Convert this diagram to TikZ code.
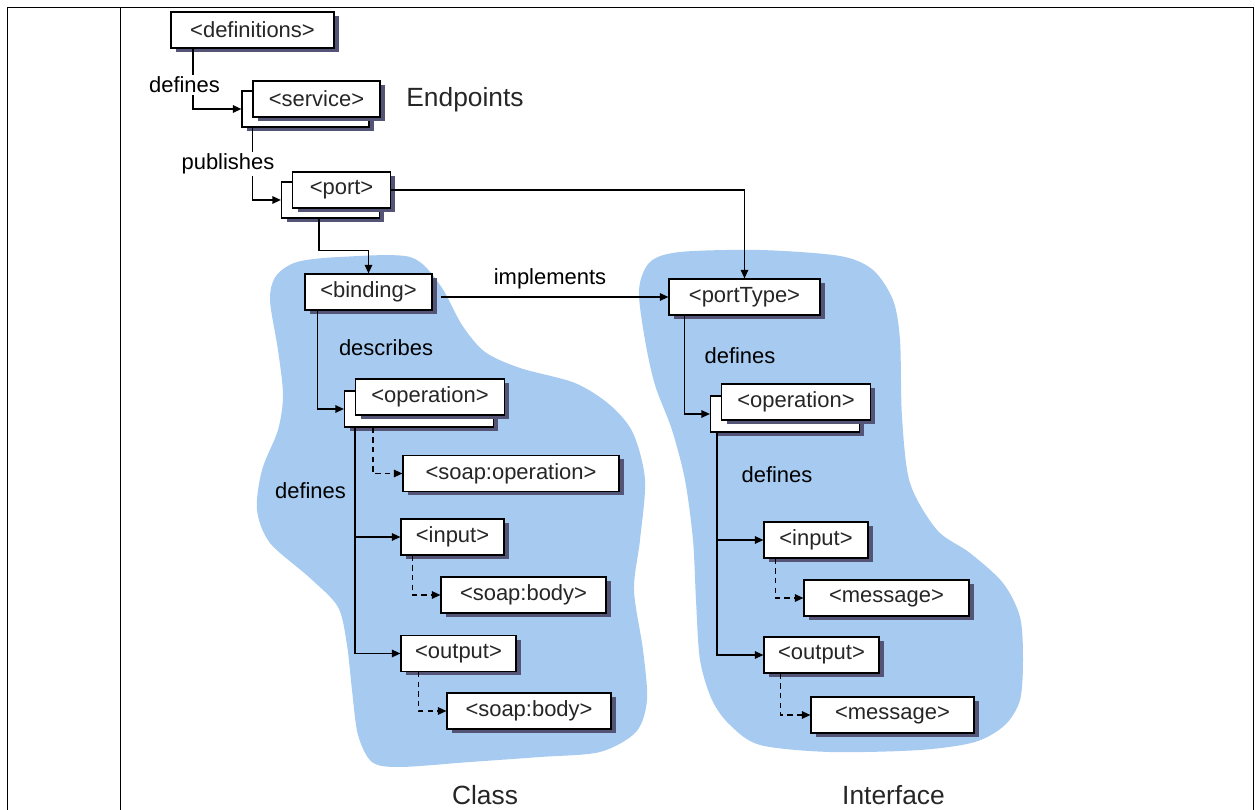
\documentclass[tikz,border=0pt]{standalone}
\usepackage{fontspec}
\setmainfont{Liberation Sans}
\usetikzlibrary{arrows.meta,shadows,calc}
\definecolor{blobblue}{HTML}{A6CAF0}
\definecolor{shadowc}{RGB}{84,84,118}

\begin{document}
\begin{tikzpicture}[x=0.02cm, y=-0.02cm,
    box/.style={draw, fill=white, line width=0.7pt, inner sep=0pt,
        minimum height=0.72cm, text=black!85,
        font=\fontsize{12.5}{14}\selectfont,
        drop shadow={shadow xshift=0.1cm, shadow yshift=-0.08cm, fill=shadowc, opacity=1}},
    lbl/.style={font=\fontsize{12.5}{14}\selectfont, inner sep=1pt},
    title/.style={font=\fontsize{15}{18}\selectfont, text=black!85},
    arr/.style={line width=0.7pt, -{Triangle[length=0.17cm, width=0.15cm]}},
    dasharr/.style={arr, dash pattern=on 3pt off 2.5pt}]
    \useasboundingbox (0,0) rectangle (1255,810);
    % The frame.
        \draw[line width=1.1pt] (7.5,810) -- (7.5,7.5) -- (1253.5,7.5) -- (1253.5,810);
        \draw[line width=1.1pt] (120.5,7.5) -- (120.5,810);
    % The two blue areas.
        \fill[blobblue] plot[smooth cycle] coordinates {(270,300) (276,276) (297,262) (340,257)
            (410,257) (440,285) (462,325) (485,352) (520,368) (575,383) (610,405)
            (633,433) (645,480) (640,540) (634,590) (643,650) (647,700) (636,732)
            (600,752) (540,757) (470,762) (400,767) (372,762) (358,735) (352,690)
            (347,645) (338,607) (310,578) (270,543) (257,510) (262,470) (278,430)
            (283,395) (278,350)};
        \fill[blobblue] plot[smooth cycle] coordinates {(639,290) (650,262) (680,252) (760,250)
            (840,256) (873,270) (893,300) (900,340) (902,417) (910,483) (937,530)
            (970,553) (1003,583) (1020,617) (1023,660) (1020,700) (1005,725)
            (975,742) (920,750) (830,752) (760,745) (730,725) (712,700) (700,660)
            (696,600) (693,540) (685,480) (672,430) (655,385) (645,340)};
    % Below nodes are the elements.
        \node[box, minimum width=3.26cm] (defs) at (252.5,30) {<definitions>};
        \node[box, minimum width=2.54cm] (svcb) at (305.5,109) {};
        \node[box, minimum width=2.54cm] (svc) at (316.5,99) {<service>};
        \node[box, minimum width=1.96cm] (portb) at (330.5,200) {};
        \node[box, minimum width=1.96cm] (port) at (341.5,190) {<port>};
        \node[box, minimum width=2.54cm] (bind) at (368.5,292) {<binding>};
        \node[box, minimum width=3.02cm] (ptype) at (744.5,297) {<portType>};
        \node[box, minimum width=2.98cm] (opcb) at (419,409) {};
        \node[box, minimum width=2.98cm] (opc) at (430,397) {<operation>};
        \node[box, minimum width=4.32cm] (soapop) at (511,473.5) {<soap:operation>};
        \node[box, minimum width=2.06cm] (cin) at (452.5,537) {<input>};
        \node[box, minimum width=3.3cm] (sb1) at (523.5,595) {<soap:body>};
        \node[box, minimum width=2.3cm] (cout) at (458.5,653.5) {<output>};
        \node[box, minimum width=3.28cm] (sb2) at (529,711) {<soap:body>};
        \node[box, minimum width=2.98cm] (opib) at (785,414) {};
        \node[box, minimum width=2.98cm] (opi) at (796,402) {<operation>};
        \node[box, minimum width=2.08cm] (iin) at (816,540) {<input>};
        \node[box, minimum width=3.3cm] (msg1) at (886.5,598) {<message>};
        \node[box, minimum width=2.3cm] (iout) at (821.5,655) {<output>};
        \node[box, minimum width=3.26cm] (msg2) at (892.5,715) {<message>};
    % Connectors.
        \draw[arr] ([xshift=-1.19cm]defs.south) |- (svcb.west);
        \draw[arr] ([xshift=0.22cm]svcb.south west) |- (portb.west);
        \draw[arr] (port.east) -| (ptype.north);
        \draw[arr] ([xshift=-0.23cm]portb.south) -- ++(0,32) -| (bind.north);
        \draw[arr] ($(bind.east |- ptype.west)+(8,0)$) -- (ptype.west);
        \draw[arr] ([xshift=0.26cm]bind.south west) |- (opcb.west);
        \draw[dasharr] ([xshift=0.58cm]opcb.south west) |- (soapop.west);
        \draw[arr] ([xshift=0.22cm]opcb.south west) |- (cin.west);
        \draw[arr] ([xshift=0.22cm]opcb.south west) |- (cout.west);
        \draw[dasharr] ([xshift=0.24cm]cin.south west) |- (sb1.west);
        \draw[dasharr] ([xshift=0.36cm]cout.south west) |- (sb2.west);
        \draw[arr] ([xshift=0.32cm]ptype.south west) |- (opib.west);
        \draw[arr] ([xshift=0.14cm]opib.south west) |- (iin.west);
        \draw[arr] ([xshift=0.14cm]opib.south west) |- (iout.west);
        \draw[dasharr] ([xshift=0.24cm]iin.south west) |- (msg1.west);
        \draw[dasharr] ([xshift=0.34cm]iout.south west) |- (msg2.west);
    % Below nodes are the labels.
        \node[lbl, fill=white] (ldefs) at (184.5,85) {defines};
        \node[lbl, fill=white] (lpub) at (228,164) {publishes};
        \node[title] (lend) at (465,100) {Endpoints};
        \node[lbl] (limpl) at (550,279) {implements};
        \node[lbl] (ldesc) at (386,348) {describes};
        \node[lbl] (ldefc) at (310.5,491) {defines};
        \node[lbl] (ldefi) at (740,356) {defines};
        \node[lbl] (ldefo) at (777,475) {defines};
        \node[title] (lclass) at (485,795) {Class};
        \node[title] (linter) at (893.5,795) {Interface};
\end{tikzpicture}
\end{document}
